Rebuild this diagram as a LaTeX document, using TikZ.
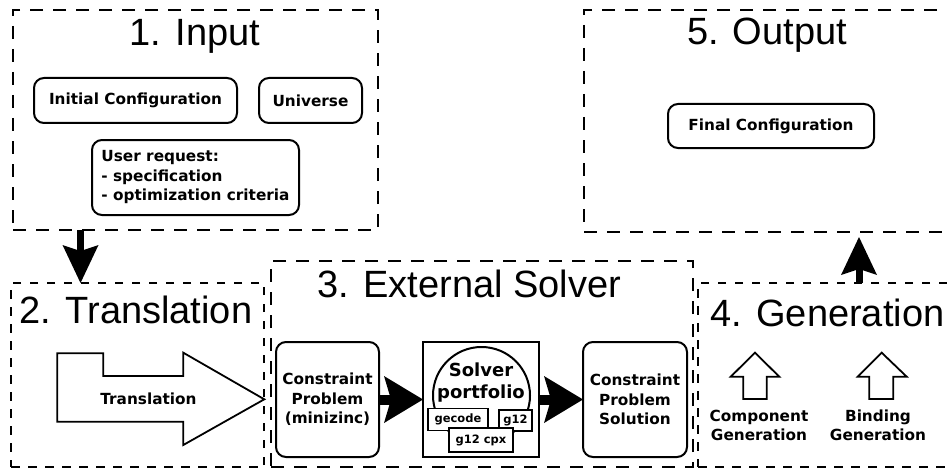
\documentclass[tikz,border=0pt]{standalone}
\usepackage{fontspec}
\setmainfont{Liberation Sans}
\newfontfamily\lblfont{DejaVu Sans}
\usetikzlibrary{arrows.meta,calc}

\tikzset{
  dbox/.style={draw, line width=1.8pt, inner sep=0pt, outer sep=0pt},
  dlong/.style={dbox, dash pattern=on 13pt off 10pt},
  dshort/.style={dbox, dash pattern=on 8.5pt off 8.5pt},
  stagetitle/.style={anchor=base, inner sep=0pt, font=\fontsize{38}{44}\selectfont},
  rbox/.style={draw, line width=2pt, rounded corners=10pt, inner sep=0pt, outer sep=0pt,
    align=center, fill=white, font=\lblfont\bfseries\fontsize{15.3}{19.5}\selectfont},
  sbox/.style={draw, line width=1.6pt, inner sep=0pt, outer sep=0pt, fill=white,
    font=\lblfont\bfseries\fontsize{11.5}{14}\selectfont},
  lbl/.style={align=center, inner sep=0pt, font=\lblfont\bfseries\fontsize{15.3}{19.5}\selectfont},
  fatarrow/.style={line width=7pt, -{Stealth[length=38pt,width=36pt,inset=6pt,line width=0pt]}},
  solarrow/.style={line width=10pt, -{Stealth[length=39pt,width=47pt,inset=7pt,line width=0pt]}},
  hollow/.style={draw, line width=1.8pt, line join=miter, fill=white},
}

\begin{document}
\begin{tikzpicture}[x=1pt,y=-1pt]
\useasboundingbox (0,0) rectangle (947,468);
\clip (0,0) rectangle (947,468);

% stage frames
\node[dlong,  minimum width=365pt, minimum height=220pt] (inbox)  at (195.5,120) {};
\node[dlong,  minimum width=376pt, minimum height=222pt] (outbox) at (772,121) {};
\node[dshort, minimum width=253pt, minimum height=184pt] (trbox)  at (137.5,375) {};
\node[dlong,  minimum width=422pt, minimum height=206pt] (solbox) at (482,364) {};
\node[dshort, minimum width=262pt, minimum height=184pt] (genbox) at (829,375) {};

% stage titles
\node[stagetitle] (t1) at (195,46)    {1. Input};
\node[stagetitle] (t5) at (767,45)    {5. Output};
\node[stagetitle] (t2) at (136,323)   {2. Translation};
\node[stagetitle] (t3) at (469.5,297) {3. External Solver};
\node[stagetitle] (t4) at (827.5,326) {4. Generation};

% 1. input
\node[rbox, minimum width=203pt, minimum height=45pt] (init) at (135.5,100.5) {Initial Configuration};
\node[rbox, minimum width=103pt, minimum height=45pt] (univ) at (310.5,100.5) {Universe};
\node[rbox, minimum width=207pt, minimum height=75pt, align=left] (req) at (195.5,177.5)
  {User request:\\- specification\\- optimization criteria};

% 5. output
\node[rbox, minimum width=206pt, minimum height=44pt] (final) at (771,126) {Final Configuration};

% 2. translation
\draw[hollow] (57.3,353.3) -- (103.3,353.3) -- (103.3,376) -- (183.3,376) -- (183.3,352.7)
  -- (264.3,399.3) -- (183.3,445) -- (183.3,421.7) -- (57.3,421.7) -- cycle;
\node[lbl] (trl) at (148.5,399) {Translation};

% 3. external solver
\node[rbox, minimum width=103pt, minimum height=115pt] (cp) at (327.5,399.5) {Constraint\\Problem\\(minizinc)};
\node[draw, line width=2pt, inner sep=0pt, outer sep=0pt, minimum width=116pt, minimum height=115pt] (port) at (481,399.5) {};
\node[draw, circle, line width=2pt, fill=white, inner sep=0pt, minimum size=97pt] (disc) at (481.5,395.5) {};
\node[lbl, font=\lblfont\bfseries\fontsize{18}{22}\selectfont] (portl) at (481,383) {Solver\\portfolio};
\node[sbox, minimum width=60pt, minimum height=22pt] (gecode) at (458,419.5) {gecode};
\node[sbox, minimum width=33pt, minimum height=21pt] (g12) at (515.5,420.5) {g12};
\node[sbox, minimum width=64pt, minimum height=24pt] (cpx) at (481,440) {g12 cpx};
\node[rbox, minimum width=104pt, minimum height=115pt] (cps) at (635,399.5) {Constraint\\Problem\\Solution};

\draw[solarrow] (cp.east) -- (port.west);
\draw[solarrow] (port.east) -- (cps.west);

% 4. generation
\draw[hollow] (755,352.7) -- (779.3,376.7) -- (766.7,376.7) -- (766.7,399) -- (743.3,399)
  -- (743.3,376.7) -- (730.7,376.7) -- cycle;
\draw[hollow] (881.7,352.7) -- (906.7,376.7) -- (893.3,376.7) -- (893.3,399) -- (869.3,399)
  -- (869.3,376.7) -- (857.7,376.7) -- cycle;
\node[lbl] (compl) at (759,425.5) {Component\\Generation};
\node[lbl] (bindl) at (878,425.5) {Binding\\Generation};

% flow between stages
\coordinate (dx) at (80.5,0);
\coordinate (ux) at (859,0);
\draw[fatarrow] (inbox.south -| dx) -- (trbox.north -| dx);
\draw[fatarrow] (genbox.north -| ux) -- ($(outbox.south -| ux)+(0,5)$);
\end{tikzpicture}
\end{document}
